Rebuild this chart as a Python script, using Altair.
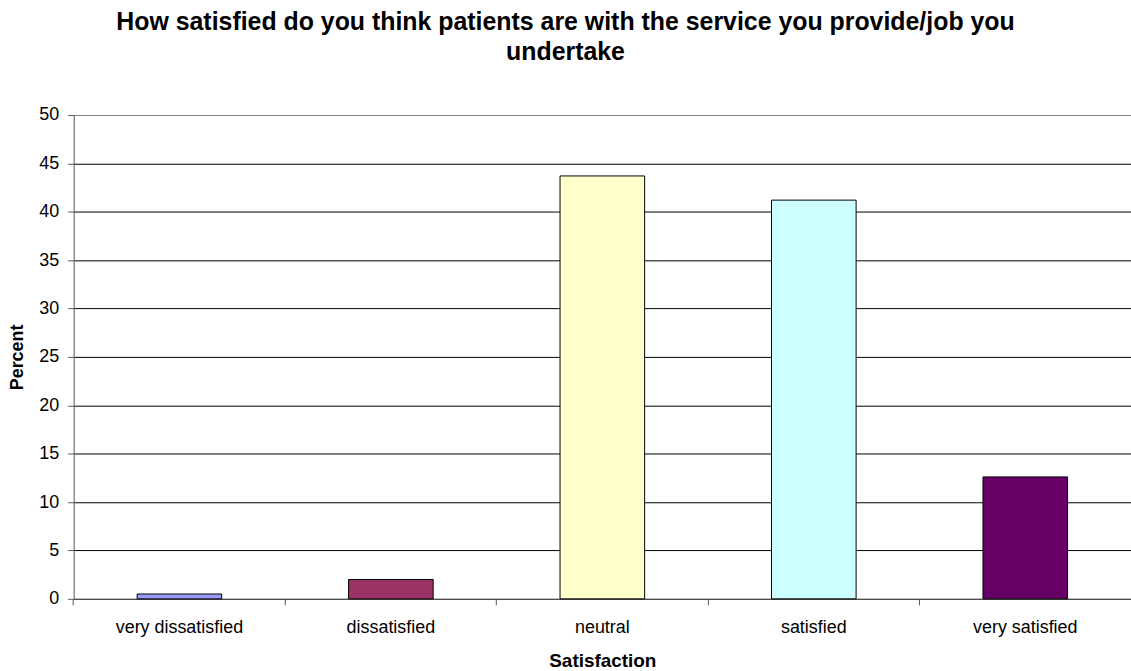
import altair as alt
import pandas as pd

# Survey responses: share of staff choosing each satisfaction level
categories = ["very dissatisfied", "dissatisfied", "neutral", "satisfied", "very satisfied"]
percent = [0.5, 2.0, 43.7, 41.2, 12.6]
bar_colors = ["#9999FF", "#993366", "#FFFFCC", "#CCFFFF", "#660066"]
y_ticks = [0, 5, 10, 15, 20, 25, 30, 35, 40, 45, 50]

title_lines = [
    "How satisfied do you think patients are with the service you provide/job you",
    "undertake",
]

df = pd.DataFrame({"Satisfaction": categories, "Percent": percent})

FONT = "Liberation Sans"
AXIS_GREY = "#555555"

bars = alt.Chart(df).mark_bar(stroke="#000000", strokeWidth=1).encode(
    x=alt.X(
        "Satisfaction:N",
        sort=categories,
        scale=alt.Scale(paddingInner=0.6, paddingOuter=0.3),
        axis=alt.Axis(
            title="Satisfaction",
            labelAngle=0,
            labelFont=FONT,
            labelFontSize=18,
            labelColor="#000000",
            labelPadding=14,
            # ticks sit halfway through the gaps between bars
            bandPosition=-0.75,
            tickSize=6,
            tickColor=AXIS_GREY,
            domainColor=AXIS_GREY,
            grid=False,
            titleFont=FONT,
            titleFontSize=19,
            titleFontWeight="bold",
            titleColor="#000000",
            titlePadding=15,
        ),
    ),
    y=alt.Y(
        "Percent:Q",
        scale=alt.Scale(domain=[0, 50], nice=False),
        axis=alt.Axis(
            title="Percent",
            values=y_ticks,
            labelFont=FONT,
            labelFontSize=18,
            labelColor="#000000",
            labelPadding=9,
            tickSize=6,
            tickColor=AXIS_GREY,
            domainColor=AXIS_GREY,
            grid=True,
            gridColor={
                "condition": {"test": "datum.value === 50", "value": "#808080"},
                "value": "#000000",
            },
            gridWidth=1,
            titleFont=FONT,
            titleFontSize=18,
            titleFontWeight="bold",
            titleColor="#000000",
            titlePadding=12,
        ),
    ),
    color=alt.Color(
        "Satisfaction:N",
        scale=alt.Scale(domain=categories, range=bar_colors),
        legend=None,
    ),
)

chart = bars.properties(
    width=1062,
    height=486,
    autosize=alt.AutoSizeParams(type="none"),
    padding={"left": 74, "top": 114, "right": 0, "bottom": 71},
    background="#FFFFFF",
    title=alt.TitleParams(
        text=title_lines,
        font=FONT,
        fontSize=25,
        fontWeight="bold",
        color="#000000",
        anchor="middle",
        frame="group",
        baseline="bottom",
        lineHeight=30,
        dx=-37,
        offset=16,
    ),
).configure_view(stroke=None)

chart.save("out.html", embed_options={"renderer": "svg", "actions": False})
